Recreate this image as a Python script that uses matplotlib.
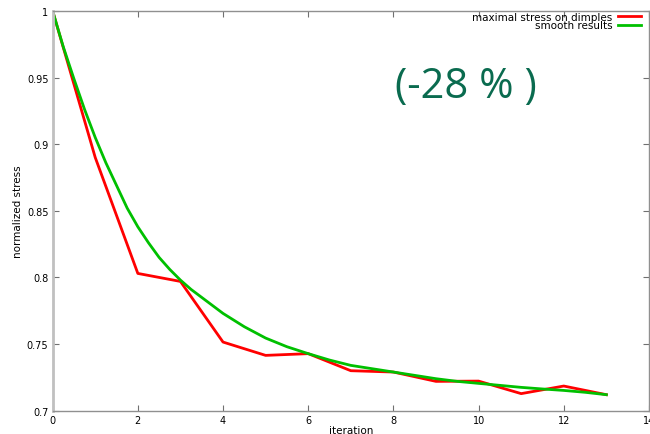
import numpy as np
import matplotlib
matplotlib.use("Agg")
import matplotlib.pyplot as plt

# raw values
iterations = [0, 1, 2, 3, 4, 5, 6, 7, 8, 9, 10, 11, 12, 13]
max_stress = [1.0, 0.890, 0.803, 0.797, 0.7515, 0.7415, 0.7428, 0.730,
              0.729, 0.722, 0.7222, 0.7128, 0.7185, 0.712]

# smooth curve (denser where it bends)
smooth_x = [0, 0.25, 0.5, 0.75, 1, 1.25, 1.5, 1.75, 2, 2.25, 2.5, 2.75, 3,
            3.25, 3.5, 3.75, 4, 4.5, 5, 5.5, 6, 6.5, 7, 7.5, 8, 8.5, 9,
            9.5, 10, 10.5, 11, 11.5, 12, 12.5, 13]
smooth_y = [1.0, 0.973, 0.949, 0.926, 0.905, 0.886, 0.869, 0.852, 0.838,
            0.826, 0.815, 0.806, 0.798, 0.791, 0.785, 0.779, 0.773, 0.763,
            0.7545, 0.748, 0.7428, 0.738, 0.734, 0.7315, 0.729, 0.7265,
            0.724, 0.722, 0.7205, 0.719, 0.7175, 0.7163, 0.7152, 0.7138, 0.712]

xticks = [0, 2, 4, 6, 8, 10, 12, 14]
yticks = [0.7, 0.75, 0.8, 0.85, 0.9, 0.95, 1.0]
ytick_labels = ["0.7", "0.75", "0.8", "0.85", "0.9", "0.95", "1"]

fig = plt.figure(figsize=(6.5, 4.35), dpi=100)
ax = fig.add_axes([0.081, 0.0536, 0.9174, 0.919])

ax.plot(iterations, max_stress, color="#ff0000", lw=2, label="maximal stress on dimples")
ax.plot(smooth_x, smooth_y, color="#00c000", lw=2, label="smooth results")

ax.set_xlim(0, 14)
ax.set_ylim(0.7, 1.0)
ax.set_xticks(xticks)
ax.set_xticklabels([str(t) for t in xticks])
ax.set_yticks(yticks)
ax.set_yticklabels(ytick_labels)
ax.tick_params(direction="in", length=4, width=0.8, colors="#707070",
               labelcolor="black", labelsize=7, top=True, right=True, pad=3)
for s in ax.spines.values():
    s.set_color("#909090")
    s.set_linewidth(1)
ax.spines["left"].set_color("#c0c0c0")
ax.spines["left"].set_linewidth(2)

ax.set_xlabel("iteration", fontsize=7.5, labelpad=0)
ax.set_ylabel("normalized stress", fontsize=7.5, labelpad=3)

leg = ax.legend(loc="upper right", bbox_to_anchor=(0.988, 1.0), frameon=False,
                markerfirst=False, fontsize=7.5, handlelength=2.2,
                handletextpad=0.5, labelspacing=-0.15,
                borderaxespad=0, borderpad=0.1)

ax.text(0.693, 0.812, "(-28 % )", transform=ax.transAxes, ha="center", va="center",
        fontsize=30, color="#0a6b4f", family="Open Sans")

fig.savefig("out.png", dpi=100)
